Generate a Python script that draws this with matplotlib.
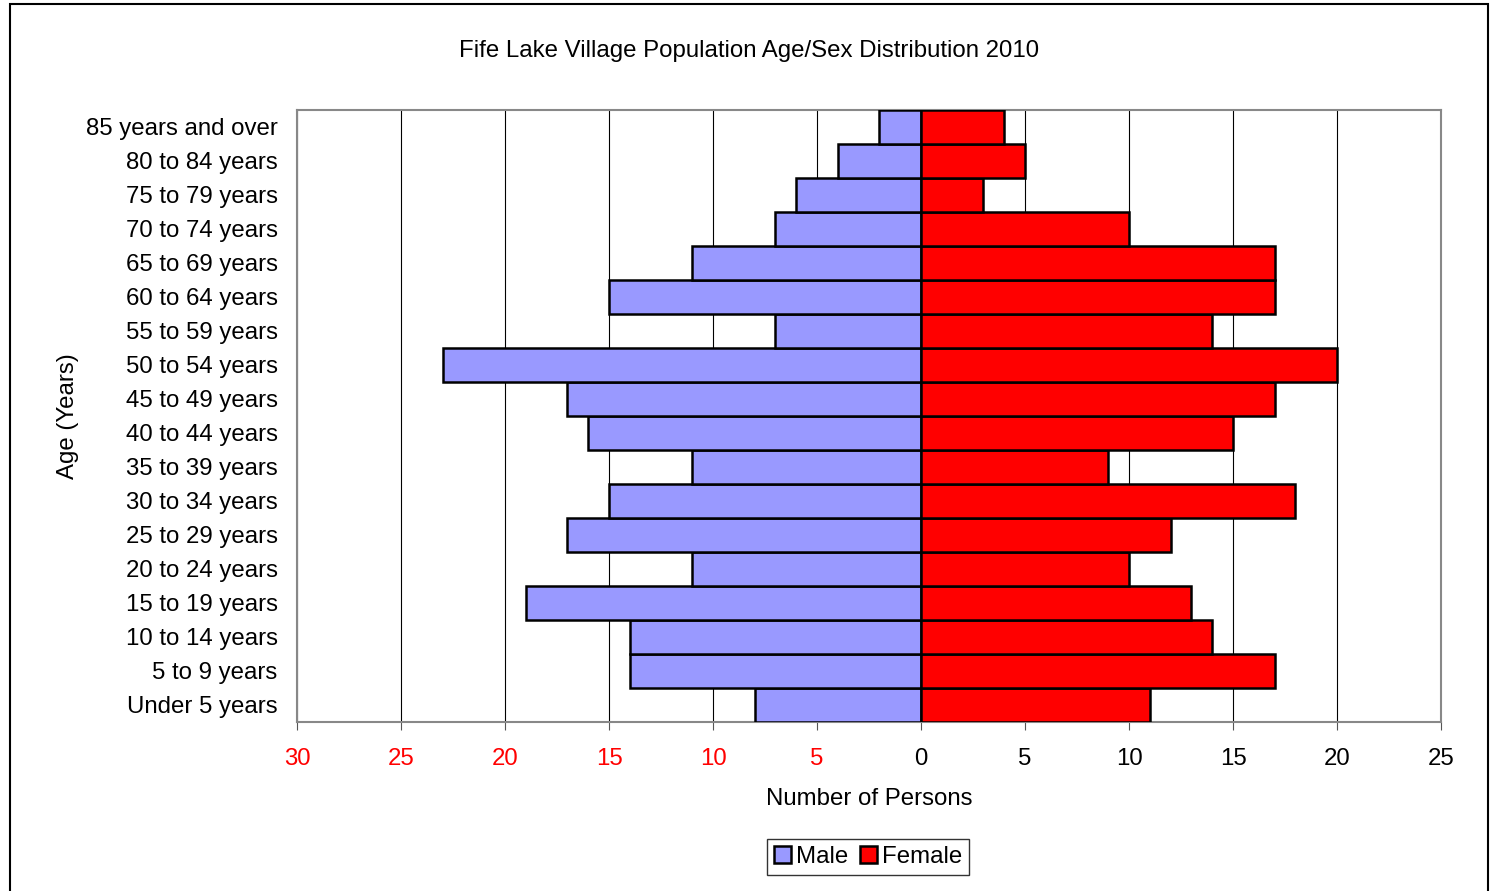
import numpy as np
import matplotlib.pyplot as plt
from matplotlib.patches import Rectangle

plt.rcParams['font.family'] = ['Liberation Sans', 'DejaVu Sans']

# Age groups, bottom to top
ages = ["Under 5 years", "5 to 9 years", "10 to 14 years", "15 to 19 years",
        "20 to 24 years", "25 to 29 years", "30 to 34 years", "35 to 39 years",
        "40 to 44 years", "45 to 49 years", "50 to 54 years", "55 to 59 years",
        "60 to 64 years", "65 to 69 years", "70 to 74 years", "75 to 79 years",
        "80 to 84 years", "85 years and over"]
male = [8, 14, 14, 19, 11, 17, 15, 11, 16, 17, 23, 7, 15, 11, 7, 6, 4, 2]
female = [11, 17, 14, 13, 10, 12, 18, 9, 15, 17, 20, 14, 17, 17, 10, 3, 5, 4]
xticks = [-30, -25, -20, -15, -10, -5, 0, 5, 10, 15, 20, 25]

fs = 17.3

fig = plt.figure(figsize=(14.93, 8.91), dpi=100)
ax = fig.add_axes([297/1493, 1 - 722/891, (1441-297)/1493, (722-110)/891])

y = np.arange(len(ages))
ax.barh(y, -np.array(male), height=1.0, color='#9999FF', edgecolor='black',
        linewidth=1.8, label='Male', zorder=3)
ax.barh(y, female, height=1.0, color='#FF0000', edgecolor='black',
        linewidth=1.8, label='Female', zorder=3)

ax.set_xlim(-30, 25)
ax.set_ylim(-0.5, len(ages) - 0.5)
ax.set_xticks(xticks)
ax.set_xticklabels([str(abs(t)) for t in xticks], fontsize=fs)
for lbl, t in zip(ax.get_xticklabels(), xticks):
    if t < 0:
        lbl.set_color('red')
ax.set_yticks(y)
ax.set_yticklabels(ages, fontsize=fs)
ax.tick_params(axis='y', length=0, pad=14)
ax.tick_params(axis='x', length=6, direction='out', pad=13, color='#555555')
ax.xaxis.grid(True, color='black', linewidth=0.8, zorder=0)
for s in ax.spines.values():
    s.set_color('#888888')
    s.set_linewidth(1.5)

ax.set_xlabel("Number of Persons", fontsize=fs, labelpad=13)
ax.set_ylabel("Age (Years)", fontsize=fs, labelpad=5)
fig.text(749/1493, 1 - 51/891, "Fife Lake Village Population Age/Sex Distribution 2010",
         ha='center', va='center', fontsize=fs)

leg = fig.legend(loc='center', bbox_to_anchor=(868/1493, 1 - 857/891), ncol=2,
                 fontsize=fs, frameon=True, fancybox=False, handlelength=0.7,
                 handleheight=0.7, handletextpad=0.2, columnspacing=0.5,
                 borderpad=0.3, borderaxespad=0)
leg.get_frame().set_edgecolor('black')
leg.get_frame().set_linewidth(1.0)

fig.patches.append(Rectangle((10/1493, -0.01), (1488-10)/1493, 1 - 4/891 + 0.01,
                             transform=fig.transFigure, fill=False,
                             edgecolor='black', linewidth=1.5))

fig.savefig('out.png', dpi=100)
